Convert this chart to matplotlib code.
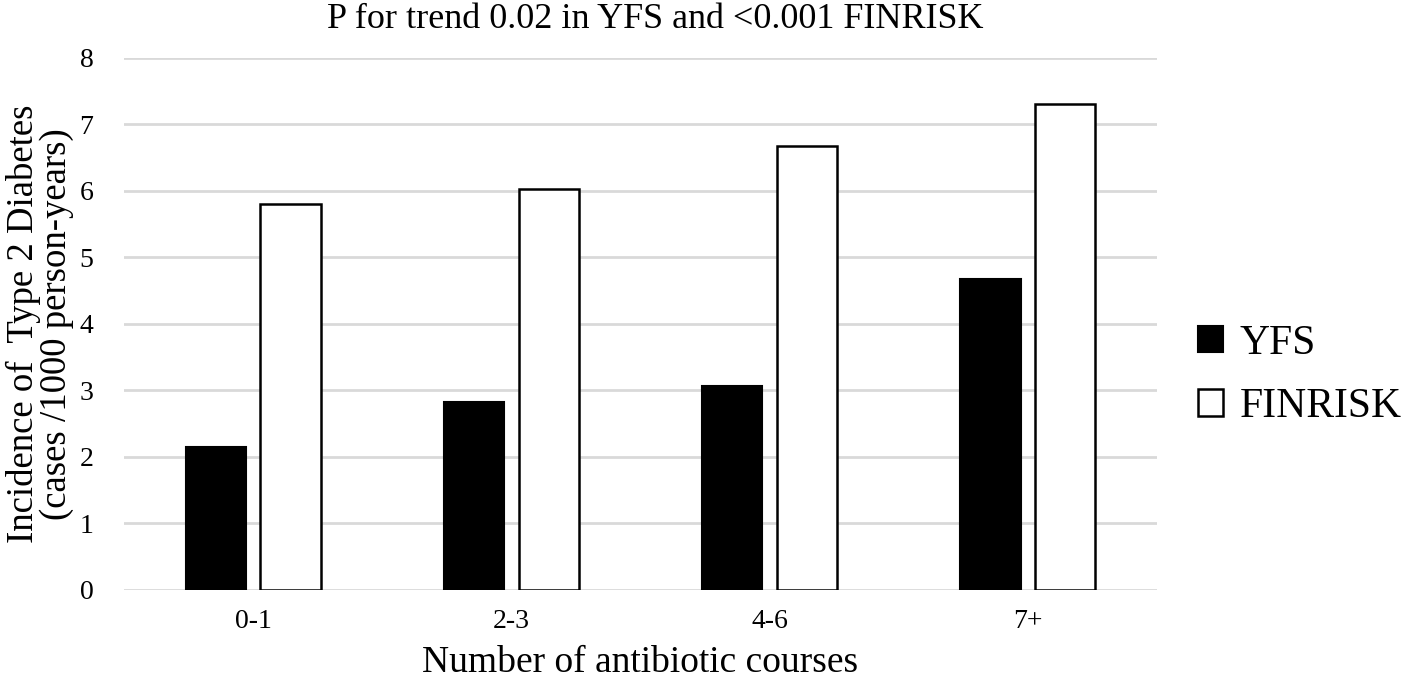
import numpy as np
import matplotlib.pyplot as plt

categories = ['0-1', '2-3', '4-6', '7+']
yfs = [2.15, 2.82, 3.07, 4.67]
finrisk = [5.80, 6.03, 6.67, 7.31]

plt.rcParams['font.family'] = ['Liberation Serif', 'DejaVu Serif']

fig = plt.figure(figsize=(14.15, 6.82), dpi=100)
ax = fig.add_axes([0.0876, 0.1349, 0.7301, 0.7801])

x = np.arange(len(categories))
w = 0.233
off = 0.145
ax.bar(x - off, yfs, w, color='black', edgecolor='black', linewidth=1.5, label='YFS', zorder=3)
ax.bar(x + off, finrisk, w, color='white', edgecolor='black', linewidth=1.8, label='FINRISK', zorder=3)

ax.set_xlim(-0.5, 3.5)
ax.set_ylim(0, 8)
ax.set_yticks(range(0, 9))
ax.set_xticks(x)
ax.set_xticklabels(categories)
ax.yaxis.grid(True, color='#d9d9d9', linewidth=2, zorder=0)
ax.set_axisbelow(True)
for s in ax.spines.values():
    s.set_visible(False)
ax.tick_params(length=0, labelsize=20, pad=14)
ax.tick_params(axis='y', pad=22)

ax.set_xlabel('Number of antibiotic courses', fontsize=27, labelpad=8)
ax.set_ylabel('Incidence of  Type 2 Diabetes\n(cases /1000 person-years)', fontsize=26.5, labelpad=4, linespacing=0.95)
fig.text(0.463, 0.972, 'P for trend 0.02 in YFS and <0.001 FINRISK', fontsize=26, ha='center', va='center')

fig.legend(loc='center left', bbox_to_anchor=(0.82, 0.45), frameon=False, fontsize=30,
           handlelength=0.6, handleheight=0.6, handletextpad=0.4, labelspacing=0.6)

fig.savefig('out.png', dpi=100)
